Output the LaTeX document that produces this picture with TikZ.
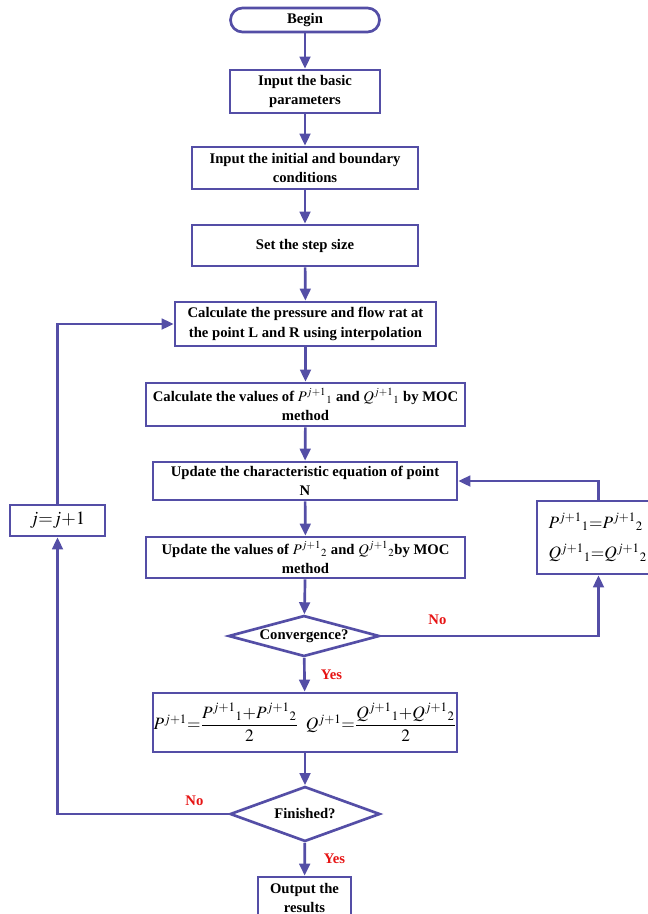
\documentclass[tikz,border=0pt]{standalone}
\usepackage{amsmath}
\usepackage{mathptmx}
\usepackage{fontspec}
\setmainfont{Liberation Serif}
\usetikzlibrary{arrows.meta,shapes.geometric}
\definecolor{flowblue}{RGB}{84,78,166}
\definecolor{flowred}{RGB}{230,20,20}

\begin{document}
\begin{tikzpicture}[x=0.75pt, y=-0.75pt, >={Triangle[length=9pt,width=8pt]},
	base/.style={draw=flowblue, line width=2pt, fill=white, align=center, inner sep=1pt,
		font=\fontsize{11}{14.5}\selectfont\bfseries},
	proc/.style={base, rectangle},
	term/.style={base, rectangle, rounded corners=9pt},
	test/.style={base, diamond, aspect=3.5, inner sep=0pt},
	yesno/.style={text=flowred, font=\fontsize{11}{13}\selectfont\bfseries},
	link/.style={draw=flowblue, line width=2pt, ->}]
	\useasboundingbox (0,0) rectangle (648,914);

	% Nodes {begin, par, cond, dt, interp, moc1, char, moc2, conv, avg, fin, out, upd, jinc}
	\node [term, minimum width=111.75pt, minimum height=18pt]    (begin)  at (305,20)    {Begin};
	\node [proc, minimum width=112.5pt, minimum height=32.25pt]  (par)    at (305,91.5)  {Input the basic\\parameters};
	\node [proc, minimum width=169.5pt, minimum height=31.5pt]   (cond)   at (305,168)   {Input the initial and boundary\\conditions};
	\node [proc, minimum width=169.5pt, minimum height=30.75pt]  (dt)     at (305,245.5) {Set the step size};
	\node [proc, minimum width=195.75pt, minimum height=33pt]    (interp) at (305.5,324) {Calculate the pressure and flow rat at\\the point L and R using interpolation};
	\node [proc, minimum width=239.25pt, minimum height=32.25pt] (moc1)   at (305.5,404.5) {Calculate the values of $P^{j+1}{}_1$ and $Q^{j+1}{}_1$ by MOC\\method};
	\node [proc, minimum width=228pt, minimum height=28.5pt]     (char)   at (305,481)   {Update the characteristic equation of point\\N};
	\node [proc, minimum width=239.25pt, minimum height=30.75pt] (moc2)   at (305.5,557.5) {Update the values of $P^{j+1}{}_2$ and $Q^{j+1}{}_2$by MOC\\method};
	\node [test, minimum width=113.25pt, minimum height=30.75pt] (conv)   at (304,636)   {Convergence?};
	\node [proc, minimum width=228pt, minimum height=44.25pt, inner sep=0pt,
		font=\fontsize{13}{16}\selectfont]                       (avg)    at (305,722.5)
		{$P^{j+1}{=}\dfrac{P^{j+1}{}_1{+}P^{j+1}{}_2}{2}\;\; Q^{j+1}{=}\dfrac{Q^{j+1}{}_1{+}Q^{j+1}{}_2}{2}$};
	\node [test, minimum width=112.5pt, minimum height=41.25pt]  (fin)    at (305,814)   {Finished?};
	\node [proc, minimum width=69.75pt, minimum height=31.5pt]   (out)    at (304.5,898) {Output the\\results};
	\node [proc, text width=75pt, inner xsep=8.6pt, minimum height=54.75pt, align=left,
		font=\fontsize{13}{23}\selectfont]                       (upd)    at (598.5,537.5)
		{$P^{j+1}{}_1{=}P^{j+1}{}_2$\\$Q^{j+1}{}_1{=}Q^{j+1}{}_2$};
	\node [proc, minimum width=71.25pt, minimum height=23.25pt, align=left,
		font=\fontsize{14}{16}\selectfont]                       (jinc)   at (57.5,520.5) {$j{=}j{+}1$};

	% Paths
	\path [link] (begin)  -- (par);
	\path [link] (par)    -- (cond);
	\path [link] (cond)   -- (dt);
	\path [link] (dt)     -- (interp);
	\path [link] (interp) -- (moc1);
	\path [link] (moc1)   -- (char);
	\path [link] (char)   -- (moc2);
	\path [link] (moc2)   -- (conv);
	\path [link] (conv)   -- node [yesno, right=8pt] {Yes} (avg);
	\path [link] (avg)    -- (fin);
	\path [link] (fin)    -- node [yesno, right=10pt] {Yes} (out);
	\path [link] (conv.east) -| node [yesno, pos=0.13, above=4pt] {No} (upd.south);
	\path [link] (upd.north) |- (char.east);
	\path [link] (fin.west)  -| node [yesno, pos=0.1, above=2pt] {No} (jinc.south);
	\path [link] (jinc.north) |- (interp.west);

\end{tikzpicture}
\end{document}
